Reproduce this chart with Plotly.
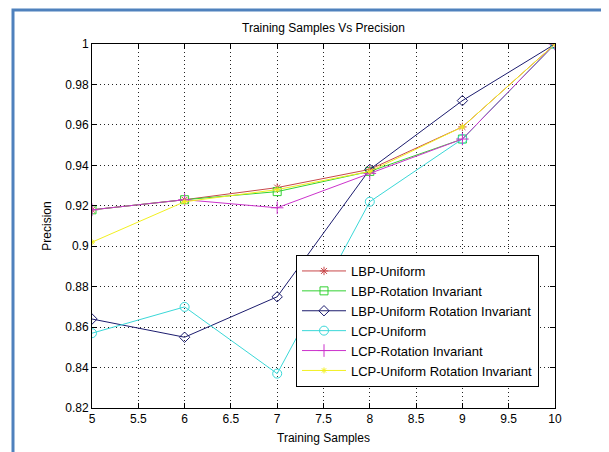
import plotly.graph_objects as go

samples = [5, 6, 7, 8, 9, 10]
lbp_uniform = [0.918, 0.923, 0.929, 0.938, 0.959, 1.0]
lbp_rot_inv = [0.918, 0.923, 0.927, 0.937, 0.953, 1.0]
lbp_uniform_rot_inv = [0.864, 0.855, 0.875, 0.938, 0.972, 1.0]
lcp_uniform = [0.857, 0.870, 0.837, 0.922, 0.953, 1.0]
lcp_rot_inv = [0.918, 0.923, 0.919, 0.936, 0.953, 1.0]
lcp_uniform_rot_inv = [0.902, 0.922, 0.928, 0.937, 0.959, 1.0]

series_names = ["LBP-Uniform", "LBP-Rotation Invariant", "LBP-Uniform Rotation Invariant",
                "LCP-Uniform", "LCP-Rotation Invariant", "LCP-Uniform Rotation Invariant"]
series_values = [lbp_uniform, lbp_rot_inv, lbp_uniform_rot_inv, lcp_uniform, lcp_rot_inv, lcp_uniform_rot_inv]
colors = ["#c8484a", "#33d133", "#1c1c6e", "#3ad8d8", "#cc33cc", "#f2f020"]
symbols = ["asterisk-open", "square-open", "diamond-open", "circle-open", "cross-thin-open", "asterisk-open"]
sizes = [7, 8, 8, 9, 9, 5]

x_ticks = [5, 5.5, 6, 6.5, 7, 7.5, 8, 8.5, 9, 9.5, 10]
x_ticktext = ["5", "5.5", "6", "6.5", "7", "7.5", "8", "8.5", "9", "9.5", "10"]
y_ticks = [0.82, 0.84, 0.86, 0.88, 0.9, 0.92, 0.94, 0.96, 0.98, 1.0]
y_ticktext = ["0.82", "0.84", "0.86", "0.88", "0.9", "0.92", "0.94", "0.96", "0.98", "1"]

fig = go.Figure()
for name, vals, c, s, sz in zip(series_names, series_values, colors, symbols, sizes):
    fig.add_trace(go.Scatter(
        x=samples, y=vals, name=name, mode="lines+markers",
        line=dict(color=c, width=1),
        marker=dict(symbol=s, size=sz, color=c, line=dict(color=c, width=1)),
    ))

font = "Liberation Sans, Arial, sans-serif"
axis_common = dict(
    showline=True, linecolor="black", linewidth=1, mirror="ticks",
    ticks="inside", ticklen=5, tickcolor="black",
    showgrid=True, gridcolor="#222222", gridwidth=1, griddash="1px,3px",
    zeroline=False, tickfont=dict(family=font, size=12, color="black"),
)

# page body has an 8px default margin, compensate
L, T, W, H = 84, 36, 463, 364
fig.update_layout(
    width=609, height=452,
    margin=dict(l=L, r=609 - L - W, t=T, b=452 - T - H),
    paper_bgcolor="white", plot_bgcolor="white",
    title=dict(text="Training Samples Vs Precision", x=(L + W / 2) / 609, xanchor="center",
               y=1 - 20 / 452, yanchor="middle",
               font=dict(family=font, size=12, color="black")),
    xaxis=dict(range=[5, 10], tickvals=x_ticks, ticktext=x_ticktext,
               title=dict(text="Training Samples", standoff=8,
                          font=dict(family=font, size=12, color="black")),
               **axis_common),
    yaxis=dict(range=[0.82, 1.0], tickvals=y_ticks, ticktext=y_ticktext,
               title=dict(text="Precision", standoff=11,
                          font=dict(family=font, size=12, color="black")),
               **axis_common),
    legend=dict(x=(296 - 92) / W, y=(408 - 255) / H, xanchor="left", yanchor="top",
                bgcolor="white", bordercolor="black", borderwidth=1,
                font=dict(family=font, size=13, color="black"),
                tracegroupgap=0, itemwidth=44),
    showlegend=True,
)

# Blue frame around the whole picture
fig.add_shape(type="rect", xref="paper", yref="paper",
              x0=(13 - 92) / W, x1=(607 - 92) / W,
              y0=(408 - 456) / H, y1=1 + (44 - 10) / H,
              line=dict(color="#4f81bd", width=3), fillcolor="rgba(0,0,0,0)",
              layer="below")

fig.write_html("out.html")
